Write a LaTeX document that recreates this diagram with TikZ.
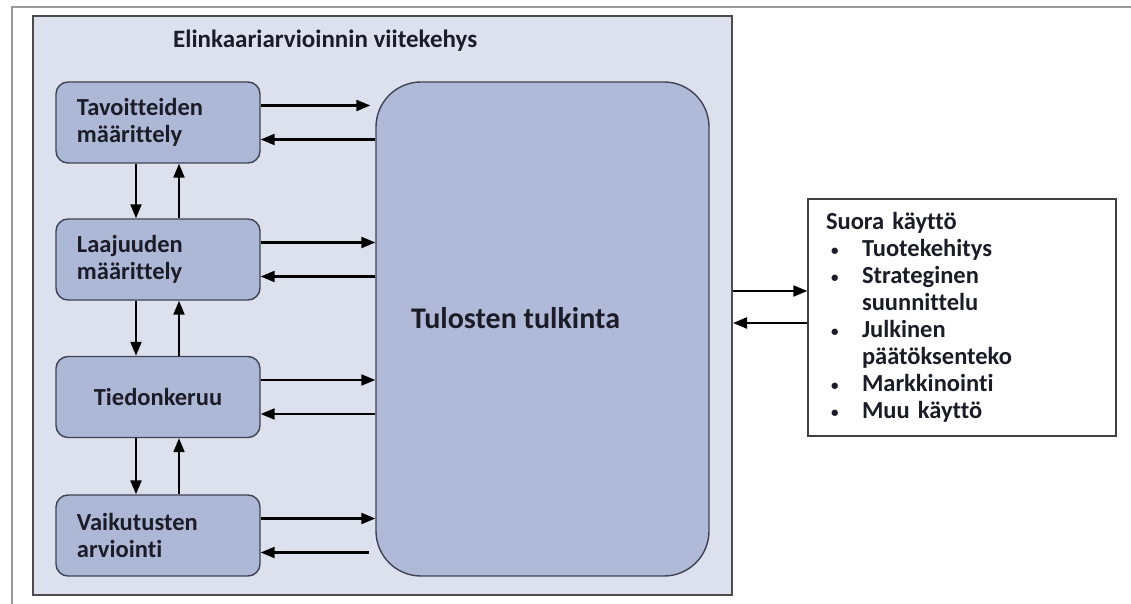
\documentclass[tikz,border=0pt]{standalone}
\usepackage{fontspec}
\setmainfont{Carlito}[Ligatures={NoCommon,NoContextual}]
\usetikzlibrary{arrows.meta}
\definecolor{framebg}{HTML}{DDE1EE}
\definecolor{boxbg}{HTML}{ADB8D6}
\definecolor{bigbg}{HTML}{B0BAD8}
\definecolor{boxline}{HTML}{3E4455}
\definecolor{txt}{HTML}{1C1C28}
\newcommand{\bul}{\raisebox{1bp}{\fontsize{15bp}{15bp}\selectfont•}}
\newcommand{\itm}[1]{\makebox[36bp][l]{\hspace{5bp}\bul}#1}
\newcommand{\cnt}[1]{\hspace{36bp}#1}
\tikzset{
  stagebox/.style={draw=boxline, line width=1.4bp, fill=boxbg, rounded corners=12bp,
    minimum width=204bp, minimum height=81bp, text width=162bp, inner xsep=21bp,
    align=left, font=\fontsize{24.5bp}{27bp}\selectfont\bfseries, text=txt},
  arr/.style={line width=2.2bp, draw=black, -{Triangle[length=14bp,width=11bp]}},
}
\begin{document}
\begin{tikzpicture}[x=1bp,y=-1bp]
\useasboundingbox (0,0) rectangle (1131,604);
% outer frame (top and left only)
\draw[line width=2bp, draw=gray!80] (1131,7) -- (12,7) -- (12,604);
% inner frame
\node[draw=black!70, line width=2bp, fill=framebg, minimum width=699bp, minimum height=579bp, inner sep=0pt] (frame) at (382.5,305.5) {};
\node[anchor=base west, font=\fontsize{25bp}{27bp}\selectfont\bfseries, text=txt, inner sep=0pt] (title) at (173,48) {Elinkaariarvioinnin viitekehys};
% stage boxes
\node[stagebox] (b1) at (158,122.5) {Tavoitteiden\\määrittely};
\node[stagebox] (b2) at (158,259.5) {Laajuuden\\määrittely};
\node[stagebox, align=center] (b3) at (158,397) {Tiedonkeruu};
\node[stagebox] (b4) at (158,535.5) {Vaikutusten\\arviointi};
% big box
\node[draw=boxline, line width=1.4bp, fill=bigbg, rounded corners=45bp, minimum width=333bp, minimum height=494bp, inner sep=0pt] (big) at (542.5,329) {};
\node[font=\fontsize{30bp}{32bp}\selectfont\bfseries, text=txt, inner sep=0pt] (tt) at ([xshift=-27bp,yshift=11bp]big.center) {Tulosten tulkinta};
% use box
\node[draw=black!75, line width=1.4bp, fill=white, minimum width=308bp, minimum height=237bp, text width=272bp, inner xsep=18bp, align=left, font=\fontsize{24.5bp}{27bp}\selectfont\bfseries, text=txt] (use) at (962,317.5) {Suora käyttö\\\itm{Tuotekehitys}\\\itm{Strateginen}\\\cnt{suunnittelu}\\\itm{Julkinen}\\\cnt{päätöksenteko}\\\itm{Markkinointi}\\\itm{Muu käyttö}};
% vertical arrows
\foreach \a/\b in {b1/b2,b2/b3,b3/b4}{
  \draw[arr] ([xshift=-22bp]\a.south) -- ([xshift=-22bp]\b.north);
  \draw[arr] ([xshift=21bp]\b.north) -- ([xshift=21bp]\a.south);
}
% horizontal arrows
\path ([yshift=17bp]b1.east) coordinate (r1) ([yshift=-17bp]b1.east) coordinate (l1);
\path ([yshift=17bp]b2.east) coordinate (r2) ([yshift=-17bp]b2.east) coordinate (l2);
\path ([yshift=17bp]b3.east) coordinate (r3) ([yshift=-17bp]b3.east) coordinate (l3);
\path ([yshift=17bp]b4.east) coordinate (r4) ([yshift=-17bp]b4.east) coordinate (l4);
\draw[arr, shorten >=5bp] (r1) -- (r1 -| big.west);
\draw[arr] (l1 -| big.west) -- (l1);
\draw[arr] (r2) -- (r2 -| big.west);
\draw[arr] (l2 -| big.west) -- (l2);
\draw[arr] (r3) -- (r3 -| big.west);
\draw[arr] (l3 -| big.west) -- (l3);
\draw[arr] (r4) -- (r4 -| big.west);
\draw[arr, shorten <=6bp] (l4 -| big.west) -- (l4);
% arrows to use box
\path ([yshift=26.5bp]use.west) coordinate (u1) ([yshift=-5.5bp]use.west) coordinate (u2);
\draw[arr] (u1 -| frame.east) -- (u1);
\draw[arr] (u2) -- (u2 -| frame.east);
\end{tikzpicture}
\end{document}
